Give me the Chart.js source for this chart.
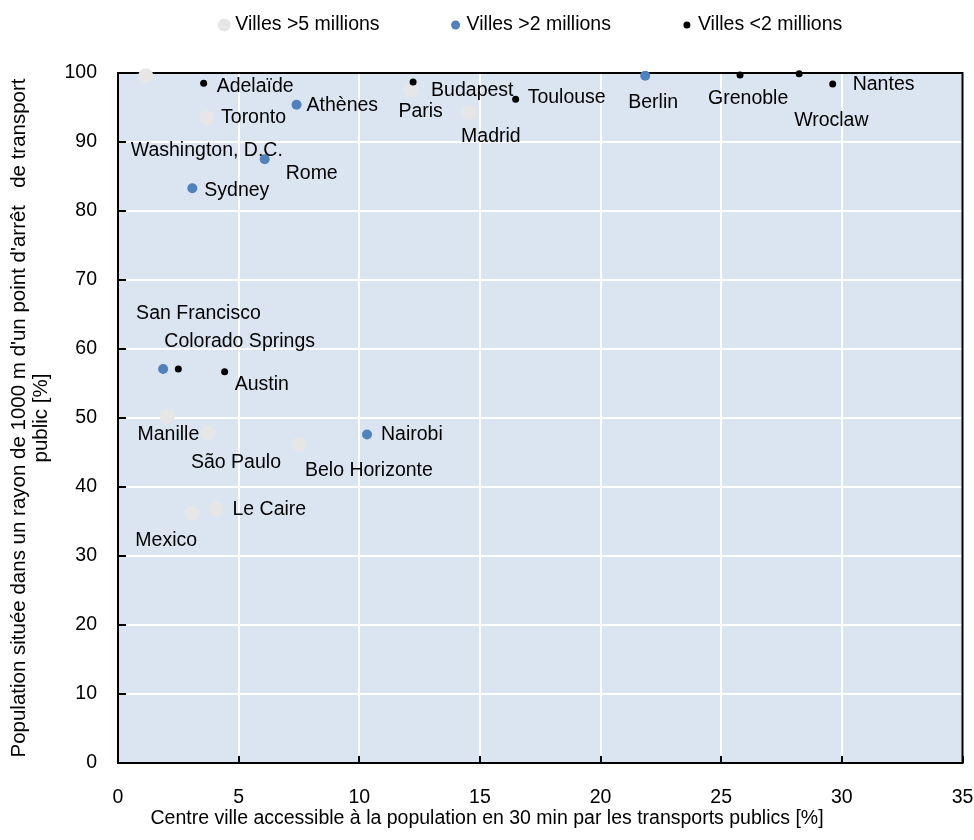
<!DOCTYPE html>
<html>
<head>
<meta charset="utf-8">
<script src="https://cdn.jsdelivr.net/npm/chart.js@4/dist/chart.umd.min.js"></script>
<style>
  html, body { margin: 0; padding: 0; background: #fff; }
  #wrap { position: relative; width: 974px; height: 840px; }
</style>
</head>
<body>
<div id="wrap"><canvas id="c" width="974" height="840"></canvas></div>
<script>
// ---- Data ----
const seriesNames = ["Villes >5 millions", "Villes >2 millions", "Villes <2 millions"];

const bigCities = ["Washington, D.C.", "Toronto", "Paris", "Madrid", "Manille", "São Paulo", "Belo Horizonte", "Le Caire", "Mexico"];
const bigX = [1.15, 3.69, 12.12, 14.55, 2.05, 3.73, 7.50, 4.08, 3.08];
const bigY = [99.6, 93.5, 97.6, 94.3, 50.2, 47.9, 46.2, 36.8, 36.2];

const midCities = ["Athènes", "Rome", "Sydney", "Berlin", "San Francisco", "Nairobi"];
const midX = [7.40, 6.08, 3.08, 21.85, 1.87, 10.32];
const midY = [95.4, 87.5, 83.3, 99.6, 57.1, 47.6];

const smallCities = ["Adelaïde", "Budapest", "Toulouse", "Grenoble", "Wroclaw", "Nantes", "Colorado Springs", "Austin"];
const smallX = [3.55, 12.23, 16.48, 25.78, 28.23, 29.62, 2.50, 4.42];
const smallY = [98.5, 98.7, 96.2, 99.7, 99.9, 98.4, 57.1, 56.7];

const xTicks = [0, 5, 10, 15, 20, 25, 30, 35];
const yTicks = [0, 10, 20, 30, 40, 50, 60, 70, 80, 90, 100];

const xTitle = "Centre ville accessible à la population en 30 min par les transports publics [%]";
const yTitle = ["Population située dans un rayon de 1000 m d'un point d'arrêt   de transport", "public [%]"];

// ---- Label placement (pixel offsets from each point: label left edge, label middle) ----
const bigLabelOffsets = [[-15, 75], [14, 0], [-12, 22], [-8, 24], [-30, 18], [-17, 30], [6, 26], [16, 1], [-57, 27]];
const midLabelOffsets = [[10, 1], [21, 14], [12, 2], [-17, 27], [-27, -55], [14, 0]];
const smallLabelOffsets = [[13, 3], [18, 9], [12, -2], [-32, 24], [-5, 47], [20, 1], [-14, -27], [10, 13]];

// ---- Styles ----
const FONT = '"Liberation Sans", Arial, sans-serif';
const FS = 19.5;
const colors = ["#E6E6E6", "#4F81BD", "#000000"];
const radii = [7.5, 5, 3.5];
const legendRadii = [6.5, 4.5, 3.5];
const plotBg = "#DBE5F1";

function pts(xs, ys, names) { return xs.map((x, i) => ({ x: x, y: ys[i], name: names[i] })); }

Chart.defaults.font.family = FONT;
Chart.defaults.font.size = FS;
Chart.defaults.color = "#000";

const bgPlugin = {
  id: "plotBg",
  beforeDraw(chart) {
    const { ctx, chartArea: a } = chart;
    ctx.save();
    ctx.fillStyle = plotBg;
    ctx.fillRect(a.left, a.top, a.right - a.left, a.bottom - a.top);
    ctx.restore();
  }
};

const framePlugin = {
  id: "frame",
  beforeDatasetsDraw(chart) {
    const { ctx, chartArea: a, scales } = chart;
    ctx.save();
    ctx.strokeStyle = "#000";
    ctx.lineWidth = 2;
    ctx.beginPath();
    xTicks.forEach(v => {
      const px = Math.round(scales.x.getPixelForValue(v));
      ctx.moveTo(px, a.bottom); ctx.lineTo(px, a.bottom - 7);
    });
    yTicks.forEach(v => {
      const py = Math.round(scales.y.getPixelForValue(v));
      ctx.moveTo(a.left, py); ctx.lineTo(a.left + 8, py);
    });
    ctx.stroke();
    ctx.strokeRect(a.left, a.top, a.right - a.left, a.bottom - a.top);
    ctx.restore();
  }
};

const labelPlugin = {
  id: "pointLabels",
  afterDatasetsDraw(chart) {
    const { ctx } = chart;
    const offs = [bigLabelOffsets, midLabelOffsets, smallLabelOffsets];
    ctx.save();
    ctx.font = FS + "px " + FONT;
    ctx.fillStyle = "#000";
    ctx.textAlign = "left";
    ctx.textBaseline = "middle";
    chart.data.datasets.forEach((ds, di) => {
      const meta = chart.getDatasetMeta(di);
      meta.data.forEach((el, i) => {
        const o = offs[di][i];
        ctx.fillText(ds.data[i].name, el.x + o[0], el.y + o[1]);
      });
    });
    ctx.restore();
  }
};

const legendPlugin = {
  id: "topLegend",
  afterDraw(chart) {
    const { ctx, chartArea: a } = chart;
    ctx.save();
    ctx.font = FS + "px " + FONT;
    ctx.textBaseline = "middle";
    ctx.textAlign = "left";
    const markerGap = 11, itemGap = 76;
    const widths = seriesNames.map(t => ctx.measureText(t).width);
    const total = widths.reduce((s, w) => s + w, 0) + markerGap * 3 + itemGap * 2;
    let x = (a.left + a.right) / 2 - total / 2 - 7;
    const y = 25;
    seriesNames.forEach((t, i) => {
      ctx.fillStyle = colors[i];
      ctx.beginPath();
      ctx.arc(x, y, legendRadii[i], 0, Math.PI * 2);
      ctx.fill();
      ctx.fillStyle = "#000";
      ctx.fillText(t, x + markerGap, y);
      x += markerGap + widths[i] + itemGap;
    });
    ctx.restore();
  }
};

const datasets = [
  { label: seriesNames[0], data: pts(bigX, bigY, bigCities), order: 3 },
  { label: seriesNames[1], data: pts(midX, midY, midCities), order: 2 },
  { label: seriesNames[2], data: pts(smallX, smallY, smallCities), order: 1 }
].map((d, i) => Object.assign(d, {
  backgroundColor: colors[i],
  borderWidth: 0,
  pointRadius: radii[i],
  pointHoverRadius: radii[i],
  clip: false
}));

const LH = 1.2 * FS;
const XH = 44;

new Chart(document.getElementById("c"), {
  type: "scatter",
  data: { datasets },
  plugins: [bgPlugin, framePlugin, labelPlugin, legendPlugin],
  options: {
    responsive: false,
    animation: false,
    events: [],
    layout: { padding: { top: 73, right: 0, bottom: 840 - 763 - XH - LH, left: 0 } },
    plugins: {
      legend: { display: false },
      tooltip: { enabled: false },
      title: {
        display: true, position: "bottom", text: xTitle,
        font: { size: FS, weight: "normal", lineHeight: 1.2 }, color: "#000", padding: 0
      }
    },
    scales: {
      x: {
        type: "linear", min: 0, max: 35,
        afterBuildTicks(s) { s.ticks = xTicks.map(v => ({ value: v })); },
        afterFit(s) { s.height = XH; s.paddingLeft = 0; s.paddingRight = 11.5; },
        grid: { color: "#FFFFFF", lineWidth: 2, drawTicks: false },
        border: { display: false },
        ticks: { padding: 23, color: "#000", font: { size: FS } }
      },
      y: {
        type: "linear", min: 0, max: 100,
        afterBuildTicks(s) { s.ticks = yTicks.map(v => ({ value: v })); },
        afterFit(s) { s.width = 118; },
        grid: { color: "#FFFFFF", lineWidth: 2, drawTicks: false },
        border: { display: false },
        ticks: { padding: 21, color: "#000", font: { size: FS } },
        title: {
          display: true, text: yTitle, color: "#000",
          font: { size: 20.5, lineHeight: 22 / 20.5 },
          padding: { top: 8, bottom: 0 }
        }
      }
    }
  }
});
</script>
</body>
</html>
